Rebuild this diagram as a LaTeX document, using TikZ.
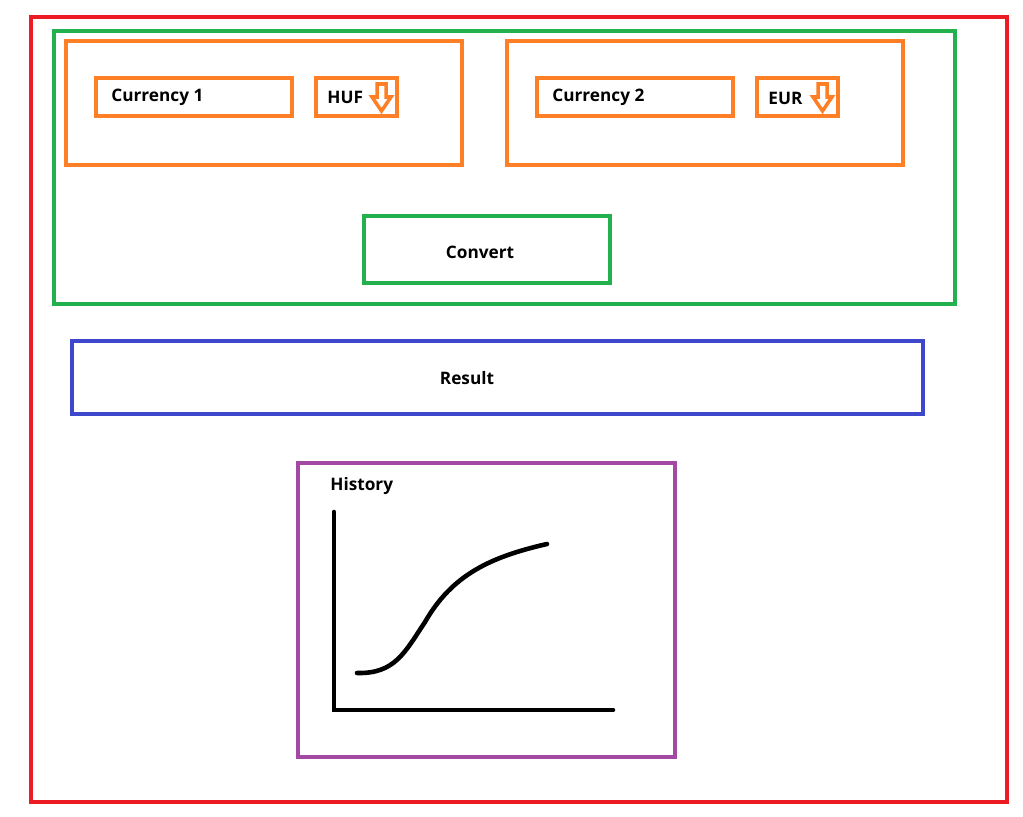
\documentclass[tikz,border=0pt]{standalone}
\usepackage{fontspec}
\setmainfont{Open Sans}
\usetikzlibrary{positioning}
\definecolor{rahmenRot}{HTML}{ED1C24}
\definecolor{formGruen}{HTML}{22B14C}
\definecolor{feldOrange}{HTML}{FF7F27}
\definecolor{ergebnisBlau}{HTML}{3F48CC}
\definecolor{verlaufLila}{HTML}{A349A4}

\begin{document}
\begin{tikzpicture}[
        x=0.02cm, y=-0.02cm,
        frame/.style={line width=2.3pt},
        lbl/.style={inner sep=0pt, font=\bfseries\fontsize{9.8}{11}\selectfont},
        pfeil/.style={feldOrange, line width=2pt, line join=miter},
        kurve/.style={line width=2.6pt, line cap=round}
    ]
        \useasboundingbox (0,0) rectangle (1023,817);
        % rahmen
        \draw[frame, rahmenRot] (31,17) rectangle (1007,802);
        \draw[frame, formGruen] (54,31) rectangle (955,304);
        \draw[frame, feldOrange] (66,41) rectangle (462,165);
        \draw[frame, feldOrange] (507,41) rectangle (903,165);
        % felder
        \draw[frame, feldOrange] (96,78) rectangle (292,116);
        \draw[frame, feldOrange] (316,78) rectangle (397,116);
        \draw[frame, feldOrange] (537,78) rectangle (733,116);
        \draw[frame, feldOrange] (757,78) rectangle (838,116);
        \node[lbl, anchor=west] (cur1) at (111,97) {Currency 1};
        \node[lbl, anchor=west] (huf) at (327,97) {HUF};
        \node[lbl, anchor=west] (cur2) at (552,97) {Currency 2};
        \node[lbl, anchor=west] (eur) at (768,98) {EUR};
        % pfeile
        \draw[pfeil] (377,84) -- (386,84) -- (386,97) -- (391,97) -- (381.5,111) -- (372,97) -- (377,97) -- cycle;
        \draw[pfeil] (818,84) -- (827,84) -- (827,97) -- (832,97) -- (822.5,111) -- (813,97) -- (818,97) -- cycle;
        % knopf und ergebnis
        \draw[frame, formGruen] (364,216) rectangle (610,283);
        \node[lbl] (convert) at (480,252) {Convert};
        \draw[frame, ergebnisBlau] (72,341) rectangle (923,414);
        \node[lbl] (result) at (467,378) {Result};
        % verlauf
        \draw[frame, verlaufLila] (298,463) rectangle (675,757);
        \node[lbl, anchor=west] (history) at (330,486) {History};
        \draw[kurve] (334,512) -- (334,710) -- (613,710);
        \draw[kurve] (357,673) .. controls (395,674) and (405,652) .. (425,622)
            .. controls (452,575) and (490,557) .. (547,544);
    \end{tikzpicture}
\end{document}
